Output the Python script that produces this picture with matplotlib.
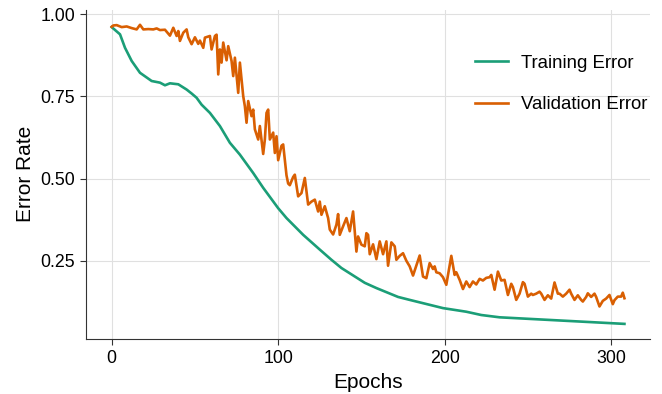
import matplotlib
matplotlib.use("Agg")
import matplotlib.pyplot as plt

plt.rcParams["font.family"] = ["Liberation Sans", "DejaVu Sans"]

# values
train_epochs = [0, 5, 8, 12, 17, 24, 29, 32, 35, 40, 45, 48, 51, 54, 59, 62, 65,
                71, 77, 85, 91, 100, 105, 115, 125, 132, 138, 152, 159, 172, 179,
                199, 213, 222, 233, 263, 308]
train_error = [0.961, 0.939, 0.898, 0.858, 0.822, 0.797, 0.792, 0.784, 0.790,
               0.787, 0.771, 0.759, 0.746, 0.725, 0.700, 0.680, 0.660, 0.609,
               0.573, 0.517, 0.472, 0.410, 0.380, 0.329, 0.284, 0.253, 0.228,
               0.183, 0.167, 0.140, 0.131, 0.106, 0.095, 0.085, 0.078, 0.070,
               0.058]

val_epochs = [0, 1, 3, 6, 9, 12, 15, 17, 19, 22, 25, 27, 29, 32, 35, 37, 39, 40,
              41, 43, 45, 46, 48, 50, 52, 53, 55, 56, 59, 60, 62, 63, 64, 65, 66,
              67, 69, 70, 72, 73, 74, 76, 77, 79, 80, 81, 82, 84, 85, 86, 88, 89,
              91, 92, 93, 94, 95, 97, 98, 99, 100, 102, 103, 105, 106, 107, 109,
              110, 112, 114, 116, 118, 120, 122, 124, 125, 126, 128, 130, 131,
              133, 135, 136, 137, 139, 141, 143, 145, 147, 148, 150, 152, 153,
              154, 155, 157, 159, 161, 163, 165, 166, 168, 170, 171, 173, 175,
              177, 179, 181, 183, 185, 187, 189, 191, 193, 194, 195, 197, 199,
              201, 204, 206, 207, 209, 211, 213, 215, 217, 219, 221, 223, 225,
              227, 228, 230, 232, 234, 236, 238, 240, 241, 243, 245, 247, 248,
              250, 252, 253, 255, 257, 258, 260, 262, 264, 266, 268, 269, 271,
              273, 275, 276, 278, 280, 282, 283, 285, 286, 288, 290, 291, 293,
              295, 297, 299, 301, 302, 304, 306, 307, 308]
val_error = [0.962, 0.966, 0.967, 0.961, 0.963, 0.958, 0.954, 0.968, 0.954,
             0.955, 0.954, 0.957, 0.952, 0.953, 0.935, 0.959, 0.934, 0.949,
             0.919, 0.944, 0.954, 0.930, 0.909, 0.930, 0.910, 0.920, 0.898,
             0.929, 0.934, 0.893, 0.934, 0.938, 0.817, 0.893, 0.853, 0.914,
             0.860, 0.903, 0.858, 0.812, 0.868, 0.761, 0.853, 0.751, 0.720,
             0.670, 0.736, 0.690, 0.710, 0.650, 0.619, 0.660, 0.575, 0.619,
             0.700, 0.710, 0.619, 0.640, 0.578, 0.629, 0.556, 0.600, 0.604,
             0.510, 0.485, 0.480, 0.505, 0.512, 0.446, 0.456, 0.502, 0.421,
             0.430, 0.436, 0.400, 0.430, 0.390, 0.416, 0.380, 0.345, 0.330,
             0.360, 0.392, 0.329, 0.355, 0.380, 0.340, 0.400, 0.278, 0.324,
             0.299, 0.294, 0.334, 0.329, 0.270, 0.300, 0.255, 0.309, 0.270,
             0.309, 0.235, 0.306, 0.294, 0.253, 0.265, 0.273, 0.250, 0.233,
             0.205, 0.235, 0.266, 0.202, 0.197, 0.243, 0.225, 0.233, 0.215,
             0.212, 0.200, 0.177, 0.265, 0.207, 0.215, 0.192, 0.164, 0.187,
             0.170, 0.187, 0.178, 0.195, 0.190, 0.198, 0.200, 0.207, 0.162,
             0.217, 0.190, 0.192, 0.146, 0.180, 0.170, 0.131, 0.150, 0.185,
             0.180, 0.141, 0.150, 0.146, 0.150, 0.156, 0.150, 0.131, 0.145,
             0.135, 0.184, 0.150, 0.150, 0.141, 0.150, 0.162, 0.150, 0.131,
             0.145, 0.131, 0.126, 0.140, 0.151, 0.140, 0.150, 0.140, 0.111,
             0.128, 0.135, 0.146, 0.118, 0.130, 0.141, 0.141, 0.153, 0.136]

fig, ax = plt.subplots(figsize=(6.62, 3.94), dpi=100)
fig.subplots_adjust(left=0.13, right=0.982, bottom=0.14, top=0.975)

ax.plot(train_epochs, train_error, color="#1b9e77", lw=1.9, label="Training Error")
ax.plot(val_epochs, val_error, color="#d95f02", lw=1.9, label="Validation Error")

ax.set_xticks([0, 100, 200, 300])
ax.set_yticks([0.25, 0.50, 0.75, 1.00])
ax.set_yticklabels(["0.25", "0.50", "0.75", "1.00"])
ax.tick_params(labelsize=12.8, length=4, color="#333333", pad=4)
ax.set_xlabel("Epochs", fontsize=15)
ax.set_ylabel("Error Rate", fontsize=15)
ax.grid(True, color="#e0e0e0", lw=0.8)
ax.set_axisbelow(True)
for side in ["top", "right"]:
    ax.spines[side].set_visible(False)
for side in ["left", "bottom"]:
    ax.spines[side].set_color("#333333")

ax.legend(loc="upper right", frameon=False, fontsize=13.4, labelspacing=1.33,
          handlelength=1.77, handletextpad=0.7, bbox_to_anchor=(1.025, 0.915))

fig.savefig("out.png")
